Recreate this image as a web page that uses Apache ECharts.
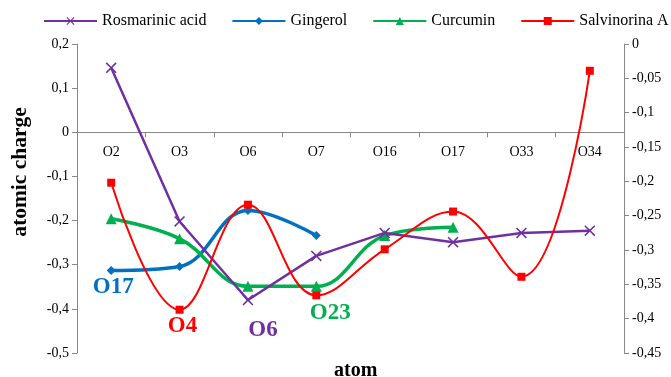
<!DOCTYPE html>
<html><head><meta charset="utf-8">
<script src="https://cdn.jsdelivr.net/npm/echarts@6/dist/echarts.min.js"></script>
<style>html,body{margin:0;padding:0;background:#fff}#c{width:671px;height:377px}</style>
</head><body><div id="c"></div>
<script>
const categories = ['O2','O3','O6','O7','O16','O17','O33','O34'];
const rosmarinic = [0.146,-0.202,-0.380,-0.280,-0.228,-0.249,-0.228,-0.223];
const gingerol = [-0.313,-0.304,-0.177,-0.234];
const curcumin = [-0.196,-0.241,-0.349,-0.349,-0.234,-0.215];
const salvinorin = [-0.202,-0.387,-0.234,-0.366,-0.299,-0.244,-0.339,-0.039];
const leftTicks = {min:-0.5,max:0.2,interval:0.1};
const rightTicks = {min:-0.45,max:0,interval:0.05};
// annotations: [label, series key, category index]
const notes = [['O17','gingerol',0],['O4','salvinorin',1],['O6','rosmarinic',2],['O23','curcumin',3]];

const fmt = v => { const r = +v.toFixed(2); return r === 0 ? '0' : String(r).replace('.', ','); };
const serif = '"Liberation Serif", "Times New Roman", serif';
const xPath = 'path://M0,1L1,0L5,4L9,0L10,1L6,5L10,9L9,10L5,6L1,10L0,9L4,5Z';
const colors = {rosmarinic:'#7030A0', gingerol:'#0070C0', curcumin:'#00B050', salvinorin:'#FF0000'};
const dataMap = {rosmarinic, gingerol, curcumin, salvinorin};
const noteOffsets = {O17:[2,17], O4:[3,16], O6:[15,30], O23:[14,27]};
function marks(key){
  const arr = notes.filter(n => n[1] === key).map(n => ({
    coord:[categories[n[2]], dataMap[key][n[2]]],
    label:{show:true, position:'inside', formatter:n[0], offset:noteOffsets[n[0]]}
  }));
  return {symbol:'circle', symbolSize:1, itemStyle:{color:'rgba(0,0,0,0)'}, data:arr,
    label:{show:true, color:colors[key], fontFamily:serif, fontWeight:'bold', fontSize:23}};
}
const chart = echarts.init(document.getElementById('c'), null, {renderer:'canvas'});
const gridBottom = 24;
chart.setOption({
  animation:false,
  textStyle:{fontFamily:serif},
  title:{text:'atom', left:334, top:361, padding:0, textStyle:{fontFamily:serif, fontWeight:'bold', fontSize:20, color:'#000'}},
  legend:{top:13, left:43, width:640, padding:0, itemWidth:53, itemHeight:10, itemGap:25,
    textStyle:{fontFamily:serif, fontSize:16, color:'#000'},
    data:['Rosmarinic acid','Gingerol','Curcumin','Salvinorina A']},
  grid:{left:77, right:47, top:44, bottom:gridBottom, containLabel:false, outerBoundsMode:'none'},
  xAxis:{type:'category', data:categories,
    axisLine:{onZero:false, lineStyle:{color:'#888'}},
    axisTick:{show:true, lineStyle:{color:'#888'}, length:5},
    axisLabel:{fontFamily:serif, fontSize:14, color:'#000', margin:13}},
  yAxis:[
    {type:'value', min:leftTicks.min, max:leftTicks.max, interval:leftTicks.interval, position:'left',
     name:'atomic charge', nameLocation:'middle', nameGap:46, nameRotate:90,
     nameTextStyle:{fontFamily:serif, fontWeight:'bold', fontSize:21.5, color:'#000', padding:[0,0,0,53]},
     splitLine:{show:false}, axisLine:{show:true, lineStyle:{color:'#888'}},
     axisTick:{show:true, length:5, lineStyle:{color:'#888'}},
     axisLabel:{formatter:fmt, fontFamily:serif, fontSize:14, color:'#000', margin:8}},
    {type:'value', min:rightTicks.min, max:rightTicks.max, interval:rightTicks.interval, position:'right',
     splitLine:{show:false}, axisLine:{show:true, lineStyle:{color:'#888'}},
     axisTick:{show:true, length:5, lineStyle:{color:'#888'}},
     axisLabel:{formatter:fmt, fontFamily:serif, fontSize:14, color:'#000', margin:8}}
  ],
  series:[
    {name:'Rosmarinic acid', type:'line', data:rosmarinic, yAxisIndex:0, smooth:false,
     symbol:xPath, symbolSize:11, color:colors.rosmarinic, lineStyle:{width:2.5},
     itemStyle:{color:colors.rosmarinic}, markPoint:marks('rosmarinic'), z:3},
    {name:'Gingerol', type:'line', data:gingerol, yAxisIndex:0, smooth:0.4,
     symbol:'diamond', symbolSize:9, color:colors.gingerol, lineStyle:{width:3.5},
     itemStyle:{color:colors.gingerol}, markPoint:marks('gingerol'), z:2},
    {name:'Curcumin', type:'line', data:curcumin, yAxisIndex:0, smooth:0.4,
     symbol:'triangle', symbolSize:11, color:colors.curcumin, lineStyle:{width:3.5},
     itemStyle:{color:colors.curcumin}, markPoint:marks('curcumin'), z:2},
    {name:'Salvinorina A', type:'line', data:salvinorin, yAxisIndex:1, smooth:0.4,
     symbol:'rect', symbolSize:8, color:colors.salvinorin, lineStyle:{width:2},
     itemStyle:{color:colors.salvinorin}, markPoint:marks('salvinorin'), z:4}
  ]
});
// place the category axis on the zero of the left value axis, via the library's scale
const zeroPx = chart.convertToPixel({yAxisIndex:0}, 0);
const bottomPx = chart.convertToPixel({yAxisIndex:0}, leftTicks.min);
chart.setOption({xAxis:{offset:-(bottomPx - zeroPx)}});
</script></body></html>
